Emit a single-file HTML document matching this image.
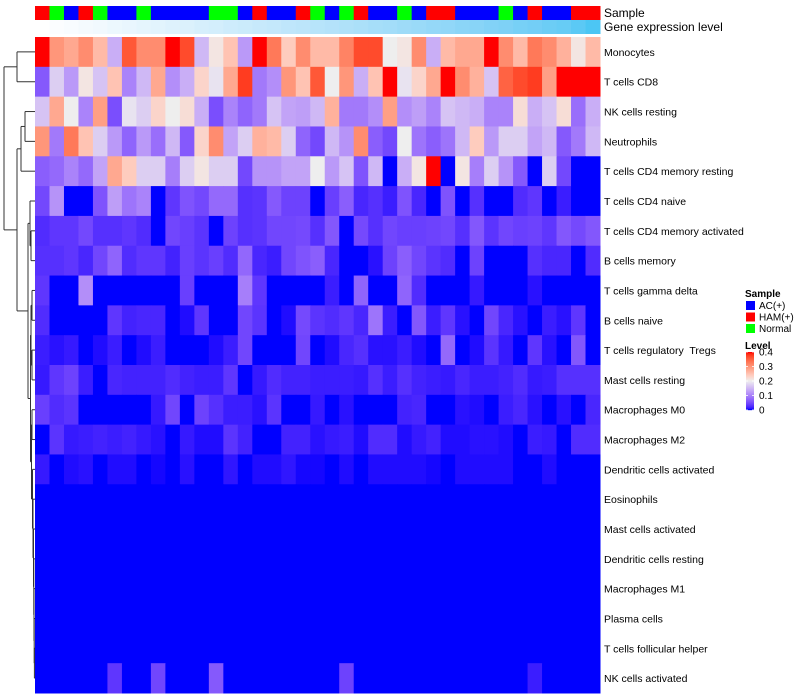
<!DOCTYPE html>
<html><head><meta charset="utf-8"><style>
html,body{margin:0;padding:0;background:#fff;}
svg{display:block;font-family:"Liberation Sans",Arial,sans-serif;}
svg text{white-space:pre;}
</style></head><body>
<svg id="chart" width="800" height="700"></svg>
<script>
const cellTypes=["Monocytes","T cells CD8","NK cells resting","Neutrophils","T cells CD4 memory resting","T cells CD4 naive","T cells CD4 memory activated","B cells memory","T cells gamma delta","B cells naive","T cells regulatory  Tregs","Mast cells resting","Macrophages M0","Macrophages M2","Dendritic cells activated","Eosinophils","Mast cells activated","Dendritic cells resting","Macrophages M1","Plasma cells","T cells follicular helper","NK cells activated"];
const sampleGroups=["H","N","A","H","N","A","A","N","A","A","A","A","N","N","A","H","A","A","H","N","A","N","H","A","A","N","A","H","H","A","A","A","N","A","H","A","A","H","H"];
const geneExpr=[0,0.03,0.05,0.08,0.1,0.13,0.15,0.18,0.2,0.23,0.25,0.28,0.3,0.33,0.35,0.38,0.4,0.43,0.45,0.48,0.5,0.53,0.55,0.58,0.6,0.63,0.65,0.68,0.7,0.73,0.75,0.78,0.8,0.83,0.85,0.88,0.9,0.95,1];
const zeros=new Array(39).fill(0);
const values=[
[0.42,0.3,0.28,0.31,0.26,0.14,0.36,0.31,0.31,0.42,0.37,0.15,0.21,0.25,0.12,0.42,0.33,0.24,0.31,0.26,0.26,0.32,0.37,0.37,0.2,0.21,0.31,0.14,0.26,0.28,0.28,0.42,0.31,0.26,0.33,0.31,0.27,0.21,0.26],
[0.06,0.17,0.12,0.21,0.16,0.25,0.1,0.15,0.28,0.11,0.14,0.23,0.19,0.28,0.38,0.09,0.11,0.3,0.25,0.36,0.2,0.3,0.14,0.25,0.42,0.19,0.23,0.28,0.4,0.31,0.27,0.16,0.35,0.37,0.38,0.29,0.42,0.42,0.42],
[0.16,0.28,0.2,0.1,0.29,0.05,0.19,0.17,0.23,0.2,0.22,0.14,0.05,0.1,0.07,0.09,0.16,0.13,0.125,0.15,0.27,0.09,0.09,0.11,0.29,0.11,0.125,0.1,0.16,0.15,0.14,0.1,0.1,0.22,0.14,0.16,0.22,0.08,0.14],
[0.3,0.09,0.33,0.25,0.17,0.12,0.07,0.12,0.08,0.15,0.06,0.23,0.31,0.13,0.17,0.27,0.26,0.17,0.07,0.045,0.15,0.115,0.31,0.065,0.045,0.2,0.085,0.065,0.085,0.15,0.24,0.12,0.17,0.17,0.13,0.15,0.06,0.09,0.15],
[0.065,0.075,0.1,0.075,0.13,0.28,0.24,0.17,0.17,0.095,0.17,0.21,0.17,0.17,0.045,0.115,0.115,0.13,0.13,0.2,0.12,0.16,0.055,0.15,0,0.14,0.21,0.42,0,0.21,0.095,0.17,0.115,0.06,0,0.17,0.045,0,0],
[0.045,0.115,0,0,0.055,0.125,0.085,0.1,0,0.03,0.055,0.045,0.075,0.075,0.025,0.028,0.06,0.04,0.04,0,0.037,0.065,0.018,0.025,0.012,0.055,0.018,0,0.055,0,0.025,0,0,0.022,0.03,0,0.012,0,0],
[0.022,0.03,0.03,0.045,0.025,0.025,0.03,0.022,0,0.043,0.037,0.028,0,0.04,0.025,0.028,0.043,0.043,0.046,0.025,0.058,0,0.046,0.025,0.043,0.037,0.037,0.04,0.044,0.025,0.058,0.028,0.043,0.037,0.04,0.03,0.058,0.046,0.058],
[0.025,0.025,0.03,0.018,0.043,0.07,0.022,0.03,0.03,0.015,0.037,0.028,0.037,0.022,0.073,0.018,0.012,0.043,0.055,0.065,0.018,0,0,0.006,0.04,0.065,0.043,0.028,0.022,0,0.04,0,0,0,0.025,0.018,0.018,0,0.022],
[0.03,0,0,0.11,0,0,0,0,0,0,0.037,0,0,0,0.095,0.03,0,0,0,0,0.012,0,0.07,0,0,0.07,0.022,0,0,0,0.01,0,0,0,0.006,0,0,0,0],
[0.022,0,0,0,0,0.03,0.015,0.018,0.018,0,0.004,0.03,0,0,0.043,0.028,0,0.004,0.046,0.028,0.022,0.03,0.018,0.085,0.012,0,0.058,0.012,0.03,0.006,0,0.043,0.018,0.006,0,0.012,0.006,0.03,0],
[0.012,0.006,0.01,0,0.004,0.012,0,0.004,0.012,0,0,0,0.004,0.012,0.043,0,0,0,0.043,0,0.004,0.018,0.025,0.006,0.006,0.012,0.004,0,0.075,0,0.004,0.028,0.01,0,0.03,0.006,0,0.058,0],
[0.01,0.03,0.04,0.012,0,0.018,0.015,0.015,0.015,0.022,0.015,0.012,0.012,0.03,0,0.01,0.022,0.015,0.015,0.012,0.012,0.012,0.01,0.025,0.012,0.025,0.015,0.012,0.01,0.018,0.012,0.012,0.015,0.022,0.01,0.012,0.025,0.025,0.025],
[0.037,0.022,0.028,0,0,0,0,0,0.01,0.043,0,0.04,0.025,0.012,0.012,0.006,0.028,0,0,0.01,0,0.006,0,0,0,0.015,0.018,0,0,0.006,0.004,0,0.012,0.018,0.006,0,0.006,0,0.018],
[0,0.028,0.01,0.012,0.015,0.012,0.015,0.01,0.006,0,0.01,0.004,0.004,0.028,0.015,0,0,0.015,0.015,0.006,0.01,0.012,0.004,0.022,0.022,0.004,0.01,0.015,0.004,0.004,0.006,0.006,0.004,0,0.012,0.01,0,0.022,0.022],
[0.01,0,0.004,0.006,0,0.004,0.004,0,0.002,0,0.006,0,0,0.008,0,0.004,0.004,0.008,0.002,0.002,0,0.004,0,0.004,0.004,0.004,0.004,0.002,0,0.004,0.004,0.004,0.004,0,0,0.004,0,0,0],
zeros,zeros,zeros,zeros,zeros,zeros,
[0,0,0,0,0,0.03,0,0,0.043,0,0,0,0.06,0,0,0,0,0,0,0,0,0.04,0,0,0,0,0,0,0,0,0,0,0,0,0.012,0,0,0,0]
];
const levelTicks=[0,0.1,0.2,0.3,0.4];

function s2l(c){c/=255;return c<=0.04045?c/12.92:Math.pow((c+0.055)/1.055,2.4);}
function l2s(c){c=c<=0.0031308?12.92*c:1.055*Math.pow(c,1/2.4)-0.055;return Math.max(0,Math.min(255,Math.round(c*255)));}
function toLab(h){const r=s2l(parseInt(h.substr(1,2),16)),g=s2l(parseInt(h.substr(3,2),16)),b=s2l(parseInt(h.substr(5,2),16));
let x=(0.4124*r+0.3576*g+0.1805*b)/0.95047,y=0.2126*r+0.7152*g+0.0722*b,z=(0.0193*r+0.1192*g+0.9505*b)/1.08883;
const f=t=>t>0.008856?Math.cbrt(t):7.787*t+16/116;x=f(x);y=f(y);z=f(z);return [116*y-16,500*(x-y),200*(y-z)];}
function fromLab(L,a,bb){let y=(L+16)/116,x=a/500+y,z=y-bb/200;const fi=t=>t*t*t>0.008856?t*t*t:(t-16/116)/7.787;
x=fi(x)*0.95047;y=fi(y);z=fi(z)*1.08883;
const r=3.2406*x-1.5372*y-0.4986*z,g=-0.9689*x+1.8758*y+0.0415*z,b=0.0557*x-0.2040*y+1.0570*z;
return "rgb("+l2s(r)+","+l2s(g)+","+l2s(b)+")";}
function ramp(breaks,cols){const labs=cols.map(toLab);return v=>{v=Math.max(breaks[0],Math.min(breaks[breaks.length-1],v));
let i=0;while(i<breaks.length-2&&v>breaks[i+1])i++;const t=(v-breaks[i])/(breaks[i+1]-breaks[i]);
const A=labs[i],B=labs[i+1];return fromLab(A[0]+(B[0]-A[0])*t,A[1]+(B[1]-A[1])*t,A[2]+(B[2]-A[2])*t);};}
const levelColor=ramp([0,0.2,0.4],["#0000ff","#eeeeee","#ff0000"]);
const geneColor=ramp([0,1],["#ffffff","#4cc6f4"]);
const groupColor={A:"#0000ff",H:"#ff0000",N:"#00ff00"};

const NS="http://www.w3.org/2000/svg",svg=document.getElementById("chart");
function el(tag,attrs,parent){const e=document.createElementNS(NS,tag);for(const k in attrs)e.setAttribute(k,attrs[k]);(parent||svg).appendChild(e);return e;}
const X0=35,X1=600,Y0=37,Y1=693;
const nCols=sampleGroups.length,nRows=cellTypes.length;
const cw=(X1-X0)/nCols,rh=(Y1-Y0)/nRows;
const xPos=j=>X0+j*cw, yPos=i=>Y0+i*rh;

const gS=el("g",{});


sampleGroups.forEach((g,j)=>{const r=el("rect",{x:xPos(j),y:6,width:cw+0.5,height:14,fill:groupColor[g]},gS);

});
const gG=el("g",{});


geneExpr.forEach((v,j)=>{const r=el("rect",{x:xPos(j),y:20,width:cw+0.5,height:14,fill:geneColor(v)},gG);

});
const t1=el("text",{x:604,y:17,"font-size":12,fill:"#000"});t1.textContent="Sample";


const t2=el("text",{x:604,y:31,"font-size":12,fill:"#000"});t2.textContent="Gene expression level";



const gH=el("g",{});


values.forEach((row,i)=>{row.forEach((v,j)=>{const r=el("rect",{x:xPos(j),y:yPos(i),width:cw+0.5,height:rh+0.5,fill:levelColor(v)},gH);

});
const t=el("text",{x:604,y:yPos(i)+rh/2+4,"font-size":10.5,fill:"#000"});t.textContent=cellTypes[i];

});

const tree={h:4,c:[{h:17,c:[0,1]},{h:17,c:[{h:21,c:[{h:25,c:[2,3]},4]},{h:28,c:[{h:30,c:[5,{h:31,c:[6,7]}]},{h:30.5,c:[{h:31,c:[{h:32,c:[8,9]},{h:32,c:[10,11]}]},{h:31.5,c:[{h:32,c:[12,13]},{h:32.5,c:[14,{h:33,c:[15,{h:33.5,c:[16,{h:33.8,c:[17,{h:34,c:[18,{h:34.2,c:[19,{h:34.4,c:[20,21]}]}]}]}]}]}]}]}]}]}]}]};
const gD=el("g",{stroke:"#333","stroke-width":1,fill:"none"});


function draw(n){if(typeof n==="number")return {x:X0,y:yPos(n)+rh/2};
const ch=n.c.map(draw);const ys=ch.map(c=>c.y);
ch.forEach(c=>el("line",{x1:n.h,y1:c.y,x2:c.x,y2:c.y},gD));
el("line",{x1:n.h,y1:Math.min(...ys),x2:n.h,y2:Math.max(...ys)},gD);
return {x:n.h,y:(Math.min(...ys)+Math.max(...ys))/2};}
draw(tree);

const gL=el("g",{});


const lt=el("text",{x:745,y:297,"font-size":10,"font-weight":"bold"},gL);lt.textContent="Sample";


[["A","AC(+)"],["H","HAM(+)"],["N","Normal"]].forEach((p,k)=>{
const r=el("rect",{x:746,y:301+k*11.5,width:9,height:9,fill:groupColor[p[0]]},gL);


const t=el("text",{x:759,y:309+k*11.5,"font-size":10},gL);t.textContent=p[1];

});
const lv=el("text",{x:745,y:349,"font-size":10,"font-weight":"bold"},gL);lv.textContent="Level";


const cbTop=352,cbBot=410;
for(let k=0;k<58;k++){const v=0.4*(1-k/57);const r=el("rect",{x:746,y:cbTop+k,width:8,height:1.2,fill:levelColor(v)},gL);

}
levelTicks.forEach(v=>{const y=cbBot-(v/0.4)*(cbBot-cbTop);
el("line",{x1:746,y1:y,x2:748,y2:y,stroke:"#fff","stroke-width":0.8},gL);
el("line",{x1:752,y1:y,x2:754,y2:y,stroke:"#fff","stroke-width":0.8},gL);
const t=el("text",{x:759,y:y+3.5,"font-size":10},gL);t.textContent=String(v);

});
</script>
</body></html>
